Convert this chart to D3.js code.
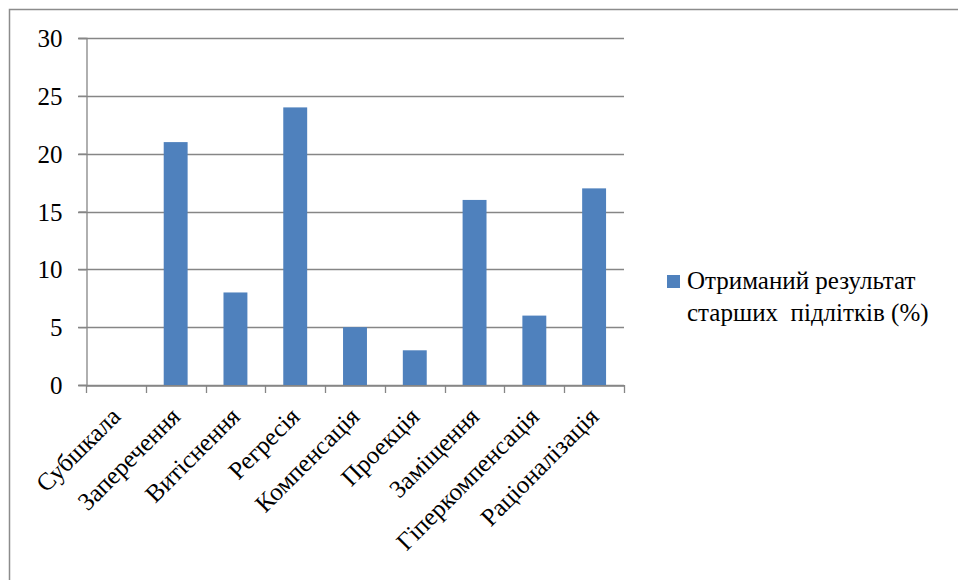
<!DOCTYPE html>
<html>
<head>
<meta charset="utf-8">
<script src="https://cdn.jsdelivr.net/npm/d3@7"></script>
</head>
<body style="margin:0; background:#fff">
<script>
// categories and values
var categories = ["Субшкала", "Заперечення", "Витіснення", "Регресія", "Компенсація",
                  "Проекція", "Заміщення", "Гіперкомпенсація", "Раціоналізація"];
var values = [0, 21, 8, 24, 5, 3, 16, 6, 17];
var yTicks = [0, 5, 10, 15, 20, 25, 30];
var legendLines = ["Отриманий результат", "старших  підлітків (%)"];

var W = 958, H = 580;
var FONT = "Liberation Serif";
var FS = 25;
var svg = d3.select("body").append("svg").attr("width", W).attr("height", H)
    .style("font-family", "'Liberation Serif', 'Times New Roman', serif");

function serif(sel) {
    sel.attr("font-family", FONT).attr("font-size", FS).attr("fill", "#000")
       .style("font-family", "'Liberation Serif', 'Times New Roman', serif", "important")
       .style("font-size", FS + "px", "important");
}

// outer chart frame (runs off right/bottom)
svg.append("rect")
    .attr("x", 9.5).attr("y", 9.5)
    .attr("width", 1000).attr("height", 1000)
    .attr("fill", "none").attr("stroke", "#8c8c8c").attr("stroke-width", 1.5);

var x = d3.scaleBand().domain(categories).range([86, 624]).paddingInner(0.6).paddingOuter(0.3);
var xb = d3.scaleBand().domain(categories).range([86, 624]);
var y = d3.scaleLinear().domain([0, 30]).range([385, 38]);

// gridlines
svg.append("g").selectAll("line").data(yTicks).join("line")
    .attr("x1", 78).attr("x2", 624)
    .attr("y1", function (d) { return Math.round(y(d)) + 0.5; })
    .attr("y2", function (d) { return Math.round(y(d)) + 0.5; })
    .attr("stroke", "#868686").attr("stroke-width", 1.3);

// bars
svg.append("g").selectAll("rect").data(values).join("rect")
    .attr("x", function (d, i) { return x(categories[i]); })
    .attr("width", x.bandwidth())
    .attr("y", function (d) { return y(d); })
    .attr("height", function (d) { return y(0) - y(d); })
    .attr("fill", "#4f81bd");

// y axis
var yAxis = d3.axisLeft(y).tickValues(yTicks).tickSize(8).tickPadding(16);
var gy = svg.append("g").attr("transform", "translate(86.5,0)").call(yAxis)
    .attr("font-family", FONT);
gy.select(".domain").attr("stroke", "#868686").attr("stroke-width", 1.3);
gy.selectAll(".tick line").attr("stroke", "#868686").attr("stroke-width", 1.3);
gy.selectAll(".tick text").call(serif).attr("dy", "0.34em");

// x axis
var xAxis = d3.axisBottom(xb).tickSize(0).tickFormat("");
var gx = svg.append("g").attr("transform", "translate(0,385.5)").call(xAxis);
gx.select(".domain").attr("stroke", "#868686").attr("stroke-width", 1.3);
gx.selectAll(".tick").remove();
svg.append("g").selectAll("line").data(d3.range(categories.length + 1)).join("line")
    .attr("x1", function (i) { return Math.round(86 + i * xb.step()) + 0.5; })
    .attr("x2", function (i) { return Math.round(86 + i * xb.step()) + 0.5; })
    .attr("y1", 385).attr("y2", 393)
    .attr("stroke", "#868686").attr("stroke-width", 1.3);

// rotated category labels
svg.append("g").selectAll("text").data(categories).join("text")
    .call(serif)
    .attr("transform", function (d) {
        return "translate(" + (xb(d) + xb.bandwidth() / 2 + 6) + ",418) rotate(-45)";
    })
    .attr("text-anchor", "end")
    .text(function (d) { return d; });

// legend
svg.append("rect").attr("x", 667).attr("y", 275).attr("width", 13).attr("height", 13)
    .attr("fill", "#4f81bd");
svg.append("g").selectAll("text").data(legendLines).join("text")
    .call(serif)
    .attr("x", 687)
    .attr("y", function (d, i) { return 289 + i * 32; })
    .attr("xml:space", "preserve")
    .style("white-space", "pre")
    .text(function (d) { return d; });
</script>
</body>
</html>
